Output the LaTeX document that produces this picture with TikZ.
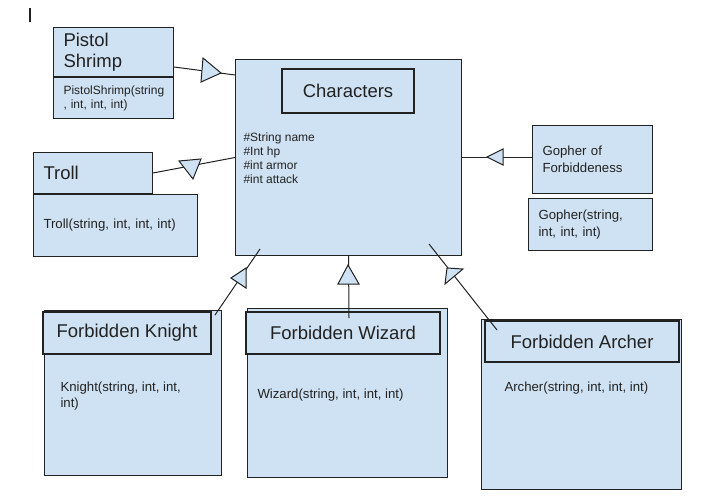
\documentclass[tikz,border=0pt]{standalone}
\usepackage{fontspec}
\setmainfont{Liberation Sans}
\usetikzlibrary{calc}
\definecolor{boxblue}{HTML}{CFE2F3}
\definecolor{ink}{HTML}{222222}

\begin{document}
\begin{tikzpicture}[x=1pt, y=-1pt, line width=1pt, draw=ink, text=ink,
  box/.style = {draw, fill=boxblue, anchor=north west, inner xsep=10pt, inner ysep=0pt, align=left},
  head/.style = {box, line width=2pt, align=center, inner xsep=0pt},
  big/.style = {font=\fontsize{18.5}{21.5}\selectfont},
  small/.style = {font=\fontsize{12}{14}\selectfont},
  mid/.style = {font=\fontsize{13.2}{16.5}\selectfont},
  tri/.style = {draw=ink, fill=boxblue, line join=miter}]
\useasboundingbox (0,0) rectangle (717,500);
% text cursor
\draw[line width=2pt] (30,8) -- (30,22);
% parent class
\node[box, minimum width=226pt, minimum height=196pt] (chars) at (235,59) {};
\node[head, big, minimum width=132pt, minimum height=44pt] (charst) at (281,68) {Characters};
\node[small, anchor=north west, inner sep=0pt, align=left] (attrs) at (243,132)
  {\#String name\\\#Int hp\\\#int armor\\\#int attack};
% side classes
\node[box, big, minimum width=120pt, minimum height=49pt, text width=100pt] (shrimp) at (53,27) {Pistol\\Shrimp};
\node[box, small, minimum width=120pt, minimum height=41pt, text width=100pt] (shrimpc) at (shrimp.south west) {PistolShrimp(string\\, int, int, int)};
\node[box, big, minimum width=119pt, minimum height=41pt, text width=99pt] (troll) at (33,152) {Troll};
\node[box, mid, minimum width=164pt, minimum height=62pt, text width=144pt] (trollc) at (troll.south west) {Troll(string, int, int, int)};
\node[box, mid, minimum width=120pt, minimum height=68pt, text width=100pt] (gopher) at (532,125) {Gopher of\\Forbiddeness};
\node[box, mid, minimum width=124pt, minimum height=52pt, text width=104pt] (gopherc) at (528,198) {Gopher(string,\\int, int, int)};
% bottom classes
\node[box, minimum width=177pt, minimum height=165pt] (knight) at (44,310) {};
\node[head, big, minimum width=168pt, minimum height=42pt] (knightt) at (42,311) {Forbidden Knight};
\node[mid, anchor=north west, inner sep=0pt, align=left] (knightc) at (60,381) {Knight(string, int, int,\\int)};
\node[box, minimum width=200pt, minimum height=169pt] (wizard) at (247,308) {};
\node[head, big, minimum width=194pt, minimum height=42pt] (wizardt) at (245,311) {Forbidden Wizard};
\node[mid, anchor=north west, inner sep=0pt, align=left] (wizardc) at (257,388) {Wizard(string, int, int, int)};
\node[box, minimum width=200pt, minimum height=170pt] (archer) at (481,319) {};
\node[head, big, minimum width=194pt, minimum height=41pt] (archert) at (484,320) {Forbidden Archer};
\node[mid, anchor=north west, inner sep=0pt, align=left] (archerc) at (504,381) {Archer(string, int, int, int)};
% inheritance lines
\draw ($(shrimp.south east)+(0,-10)$) -- ($(chars.north west)+(0,16)$);
\draw (troll.east) -- (chars.west);
\draw (chars.east) -- (chars.east -| gopher.west);
\draw ($(knightt.north east)+(3,4)$) -- ($(chars.south west)+(25,-7)$);
\draw (chars.south) -- ($(wizardt.north)+(6,7)$);
\draw ($(archert.north west)+(13,10)$) -- ($(chars.south east)+(-33,-12)$);
% triangles
\filldraw[tri] (203,58) -- (221,73) -- (201,82) -- cycle;
\filldraw[tri] (179,161) -- (201,159) -- (193,179) -- cycle;
\filldraw[tri] (487,157) -- (503,149) -- (503,165) -- cycle;
\filldraw[tri] (246,268) -- (231,278) -- (246,288) -- cycle;
\filldraw[tri] (348,265) -- (359,284) -- (338,284) -- cycle;
\filldraw[tri] (447,268) -- (463,269) -- (445,284) -- cycle;
\end{tikzpicture}
\end{document}
